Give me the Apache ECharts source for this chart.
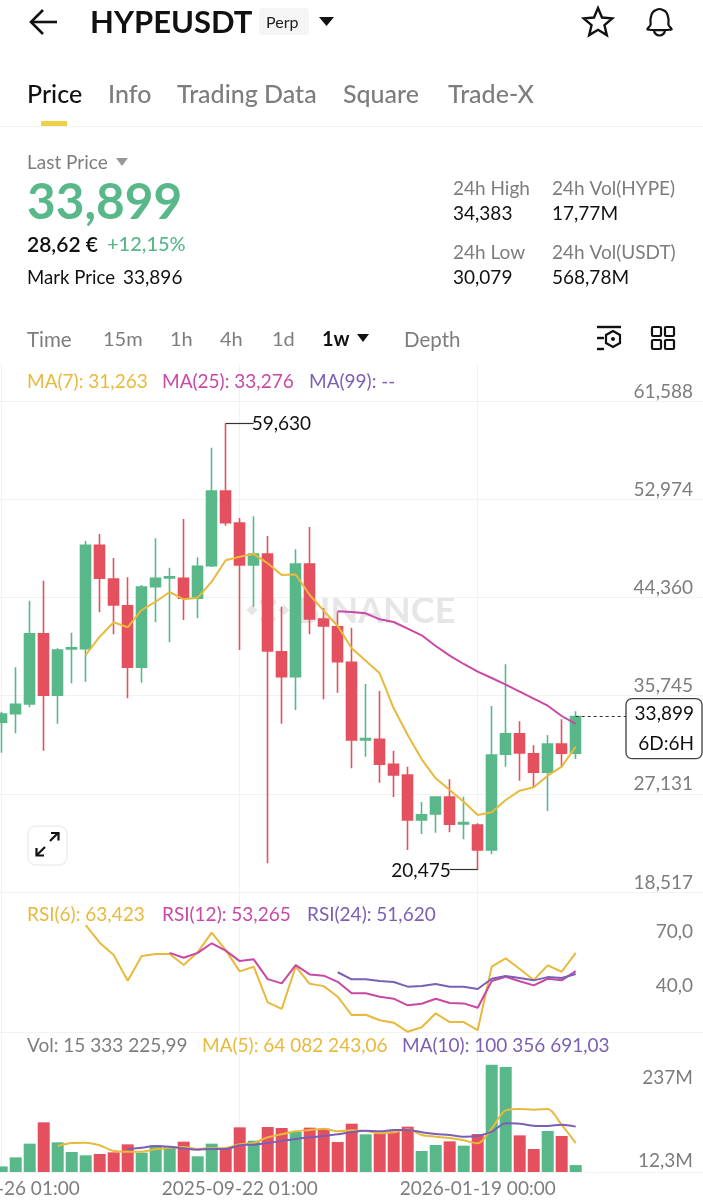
<!DOCTYPE html>
<html>
<head>
<meta charset="utf-8">
<style>
  html, body { margin: 0; padding: 0; background: #fff; }
  #chart { width: 703px; height: 1200px; }
</style>
<script src="https://cdn.jsdelivr.net/npm/echarts@6/dist/echarts.min.js"></script>
</head>
<body>
<div id="chart"></div>
<script>
var weeks = ['2025-05-26 01:00', '2025-06-02 01:00', '2025-06-09 01:00', '2025-06-16 01:00', '2025-06-23 01:00', '2025-06-30 01:00',
  '2025-07-07 01:00', '2025-07-14 01:00', '2025-07-21 01:00', '2025-07-28 01:00', '2025-08-04 01:00', '2025-08-11 01:00',
  '2025-08-18 01:00', '2025-08-25 01:00', '2025-09-01 01:00', '2025-09-08 01:00', '2025-09-15 01:00', '2025-09-22 01:00',
  '2025-09-29 01:00', '2025-10-06 01:00', '2025-10-13 01:00', '2025-10-20 01:00', '2025-10-27 00:00', '2025-11-03 00:00',
  '2025-11-10 00:00', '2025-11-17 00:00', '2025-11-24 00:00', '2025-12-01 00:00', '2025-12-08 00:00', '2025-12-15 00:00',
  '2025-12-22 00:00', '2025-12-29 00:00', '2026-01-05 00:00', '2026-01-12 00:00', '2026-01-19 00:00', '2026-01-26 00:00',
  '2026-02-02 00:00', '2026-02-09 00:00', '2026-02-16 00:00', '2026-02-23 00:00', '2026-03-02 00:00', '2026-03-09 00:00',
  // empty room right of the last candle
  ' ', '  ', '   ', '    ', '     ', '      ', '       ', '        ', '         '];

var opens = [33403, 34158, 35009, 41175, 35772, 39834, 39860, 48930, 45974, 43632, 38228, 45299, 46062, 46035,
  44281, 47141, 53693, 50886, 47202, 48167, 39596, 37403, 47290, 42465, 41790, 38667, 31851, 31913,
  29720, 28781, 24834, 25360, 26851, 24483, 24395, 22202, 30597, 32404, 30650, 29018, 31500, 30685];
var closes = [34132, 34983, 41175, 35772, 39746, 39948, 48930, 46035, 43693, 38228, 45272, 46035, 46176, 44281,
  47088, 53693, 50913, 47202, 48167, 39658, 37403, 47290, 42465, 41851, 38719, 31851, 31983, 29720,
  28781, 24834, 25299, 26851, 24456, 24614, 22202, 30535, 32404, 30711, 29018, 31500, 30685, 33899];
var lows = [30737, 32439, 34718, 30913, 33281, 36825, 36965, 43053, 41123, 35509, 36878, 42176, 40421, 42378,
  42527, 47027, 50650, 39746, 43544, 21035, 33281, 34483, 41123, 35420, 36000, 29369, 30386, 28106,
  26851, 22202, 23606, 23719, 23754, 23141, 20475, 21825, 29509, 28281, 27702, 25623, 29509, 30185];
var highs = [34334, 38228, 44071, 45825, 39895, 41264, 49307, 49922, 47816, 46123, 45448, 49544, 46965, 51237,
  47878, 57492, 59630, 51325, 51474, 49746, 43544, 48579, 50536, 43430, 43106, 41702, 36764, 36149,
  30913, 29509, 26413, 26851, 28403, 26878, 24544, 34834, 38492, 33492, 31386, 32290, 33667, 34369];

// ma7 starts at candle 6, ma25 at candle 24
var ma7 = [39307, 40913, 42176, 41737, 43255, 43982, 44834, 44193, 44334, 45737, 47614, 47930, 48167, 47351, 46325, 46369,
  44571, 43193, 41851, 39895, 38807, 37702, 34630, 32290, 30158, 28491, 27465, 26439, 25272, 25509, 26588, 27404,
  27702, 28719, 29509, 31263];
var ma25 = [43141, 43079, 42965, 42439, 42202, 41615, 41035, 40097, 39246, 38518, 37842, 37290, 36702, 36088, 35474,
  34860, 33956, 33276];

// rsi6 starts at candle 6, rsi12 at 12, rsi24 at 24
var rsi6 = [78.8, 69.0, 62.2, 47.9, 61.6, 62.7, 62.7, 56.6, 63.7, 74.6, 64.9, 53.1, 55.7, 35.9, 32.2, 55.8, 46.2, 44.9,
  39.0, 28.8, 29.0, 25.9, 24.6, 19.5, 22.0, 29.8, 24.9, 24.9, 20.5, 55.7, 60.3, 54.4, 48.3, 56.4, 52.9, 63.423];
var rsi12 = [63.4, 60.7, 63.4, 68.7, 64.6, 58.8, 59.8, 48.8, 46.4, 56.6, 51.4, 50.7, 47.3, 40.9, 40.9, 39.0, 37.9, 34.2,
  35.1, 37.9, 35.5, 35.3, 32.9, 47.7, 50.1, 47.6, 45.3, 49.0, 48.1, 53.265];
var rsi24 = [52.6, 48.7, 48.7, 47.7, 47.2, 44.6, 44.9, 46.1, 44.6, 44.6, 43.3, 49.0, 50.5, 49.4, 48.1, 49.9, 49.4, 51.62];

// volume in millions; volMa5 starts at candle 4, volMa10 at 9
var volumes = [12.3, 32.4, 62.7, 109.9, 65.6, 44.2, 36.9, 39.8, 43.5, 61.2, 42.8, 59.0, 54.6, 67.1, 34.7, 62.7, 51.6, 98.8,
  69.3, 99.6, 97.3, 89.2, 98.1, 95.9, 66.4, 106.9, 83.3, 84.8, 90.0, 100.3, 46.5, 59.7, 67.8, 58.3, 84.1, 237, 232.3,
  81.1, 50.9, 90.7, 79.6, 15.33];
var volMa5 = [57.5, 64.2, 64.9, 59.0, 46.5, 45.0, 45.0, 50.1, 53.8, 55.3, 50.9, 52.4, 53.1, 61.2, 64.2, 76.7, 83.3, 90.0,
  92.9, 95.9, 90.0, 92.2, 90.7, 85.5, 87.8, 94.4, 81.9, 78.2, 75.2, 70.1, 63.4, 95.9, 136.4, 139.4, 137.9, 139.4, 104.0, 64.08];
var volMa10 = [50.9, 53.8, 57.5, 56.0, 52.4, 49.4, 50.9, 50.9, 59.0, 60.5, 64.2, 68.6, 73.0, 76.7, 79.6, 83.3, 88.5, 91.4,
  90.0, 92.9, 92.9, 87.8, 84.1, 81.9, 78.2, 79.6, 89.2, 107.7, 106.9, 102.5, 101.8, 104.7, 100.36];

var priceTicks = [18517, 27131, 35745, 44360, 52974, 61588];
var rsiTicks = [40, 70];
var volTicks = [12.3, 237];

var FONT = 'Lato';
var UP = '#58b88a', DOWN = '#e5505f', YELLOW = '#e8b93c', PINK = '#c948a6', PURPLE = '#7a5fb5';
var GRID = '#f2f2f2', MUTED = '#7d7d7d', INK = '#111';

var chart = echarts.init(document.getElementById('chart'));

function pad(n, arr) {
  return new Array(n).fill(null).concat(arr);
}

function txt(x, y, text, size, color, weight, align) {
  return {
    type: 'text', x: x, y: y + 1, z: 20,
    style: { text: text, fill: color, fontFamily: FONT, fontSize: size, fontWeight: weight || 'normal',
      align: align || 'left', verticalAlign: 'middle' }
  };
}

function tri(x, y, w, h, color) {
  return { type: 'polygon', z: 20, shape: { points: [[x, y], [x + w, y], [x + w / 2, y + h]] }, style: { fill: color } };
}

function lineEl(pts, color, width) {
  return { type: 'polyline', z: 20, shape: { points: pts }, style: { stroke: color, lineWidth: width, fill: null } };
}

function starPts(cx, cy, R, r) {
  var pts = [];
  for (var i = 0; i < 10; i++) {
    var a = -Math.PI / 2 + i * Math.PI / 5, d = i % 2 ? r : R;
    pts.push([cx + d * Math.cos(a), cy + d * Math.sin(a)]);
  }
  return pts;
}

function diamond(cx, cy, s) {
  return { type: 'polygon', z: 0, shape: { points: [[cx, cy - s], [cx + s, cy], [cx, cy + s], [cx - s, cy]] }, style: { fill: '#e6e6e6' } };
}

var chrome = [
  // top bar
  lineEl([[43, 10], [31, 22], [43, 34]], INK, 2.6),
  lineEl([[31, 22], [57, 22]], INK, 2.6),
  txt(90, 22, 'HYPEUSDT', 31, INK, 'bold'),
  { type: 'rect', z: 19, shape: { x: 259, y: 8, width: 50, height: 27, r: 4 }, style: { fill: '#f5f5f5' } },
  txt(266, 22, 'Perp', 16, '#222'),
  tri(319, 17, 15, 9, INK),
  { type: 'polygon', z: 20, shape: { points: starPts(598, 23, 15, 6.8) }, style: { fill: 'none', stroke: INK, lineWidth: 2.4 } },
  { type: 'polygon', z: 20, shape: { smooth: 0.25, points: [[659.5, 9], [653, 12], [650.5, 19], [650.5, 25], [647.5, 29.5], [671.5, 29.5], [668.5, 25], [668.5, 19], [666, 12]] },
    style: { fill: 'none', stroke: INK, lineWidth: 2.2 } },
  { type: 'arc', z: 20, shape: { cx: 659.5, cy: 30, r: 5.5, startAngle: 0, endAngle: Math.PI, clockwise: true }, style: { fill: 'none', stroke: INK, lineWidth: 2.2 } },
  // tabs
  txt(27, 94, 'Price', 25, INK, '500'),
  txt(108, 94, 'Info', 25, MUTED, '500'),
  txt(177, 94, 'Trading Data', 25, MUTED, '500'),
  txt(343, 94, 'Square', 25, MUTED, '500'),
  txt(448, 94, 'Trade-X', 25, MUTED, '500'),
  { type: 'rect', z: 20, shape: { x: 41, y: 121, width: 26, height: 5 }, style: { fill: '#f0d048' } },
  { type: 'rect', z: 19, shape: { x: 0, y: 126, width: 703, height: 1 }, style: { fill: GRID } },
  // price block
  txt(27, 162, 'Last Price', 19, MUTED),
  tri(116, 158, 12, 8, '#999'),
  txt(27, 202, '33,899', 49.5, UP, 'bold'),
  txt(27, 244, '28,62 €', 21, INK, '600'),
  txt(107, 244, '+12,15%', 20, UP, '500'),
  txt(27, 277, 'Mark Price', 18.6, INK),
  txt(123, 277, '33,896', 19, INK),
  txt(453, 188, '24h High', 19, MUTED),
  txt(453, 213, '34,383', 19, INK),
  txt(552, 188, '24h Vol(HYPE)', 19, MUTED),
  txt(552, 213, '17,77M', 19, INK),
  txt(453, 252, '24h Low', 19, MUTED),
  txt(453, 277, '30,079', 19, INK),
  txt(552, 252, '24h Vol(USDT)', 19, MUTED),
  txt(552, 277, '568,78M', 19, INK),
  // interval row
  txt(27, 339, 'Time', 20.5, MUTED),
  txt(103, 339, '15m', 20, MUTED),
  txt(170, 339, '1h', 20, MUTED),
  txt(220, 339, '4h', 20, MUTED),
  txt(272, 339, '1d', 20, MUTED),
  txt(322, 339, '1w', 20, INK, 'bold'),
  tri(357, 334, 12, 8, INK),
  txt(404, 339, 'Depth', 20.5, MUTED),
  // settings + layout icons
  lineEl([[597, 327], [621, 327]], INK, 2.4),
  lineEl([[597, 338], [604, 338]], INK, 2.4),
  lineEl([[597, 349], [604, 349]], INK, 2.4),
  { type: 'polygon', z: 20, shape: { points: [[613, 331], [620, 335], [620, 343], [613, 347], [606, 343], [606, 335]] }, style: { fill: 'none', stroke: INK, lineWidth: 2.2 } },
  { type: 'circle', z: 20, shape: { cx: 613, cy: 339, r: 2 }, style: { fill: INK } },
  { type: 'rect', z: 20, shape: { x: 652, y: 327, width: 9, height: 9, r: 1 }, style: { fill: 'none', stroke: INK, lineWidth: 2.2 } },
  { type: 'rect', z: 20, shape: { x: 665, y: 327, width: 9, height: 9, r: 1 }, style: { fill: 'none', stroke: INK, lineWidth: 2.2 } },
  { type: 'rect', z: 20, shape: { x: 652, y: 340, width: 9, height: 9, r: 1 }, style: { fill: 'none', stroke: INK, lineWidth: 2.2 } },
  { type: 'rect', z: 20, shape: { x: 665, y: 340, width: 9, height: 9, r: 1 }, style: { fill: 'none', stroke: INK, lineWidth: 2.2 } },
  // legends
  txt(27, 381, 'MA(7): 31,263', 19, YELLOW),
  txt(162, 381, 'MA(25): 33,276', 19, PINK),
  txt(309, 381, 'MA(99): --', 19, PURPLE),
  txt(27, 914, 'RSI(6): 63,423', 19, YELLOW),
  txt(162, 914, 'RSI(12): 53,265', 19, PINK),
  txt(307, 914, 'RSI(24): 51,620', 19, PURPLE),
  txt(27, 1045, 'Vol: 15 333 225,99', 19, MUTED),
  txt(202, 1045, 'MA(5): 64 082 243,06', 19, YELLOW),
  txt(402, 1045, 'MA(10): 100 356 691,03', 19, PURPLE),
  // watermark
  diamond(268, 602, 9), diamond(268, 619, 8), diamond(252, 610, 5.5), diamond(284, 610, 5.5),
  { type: 'text', x: 296, y: 611, z: 0, style: { text: 'BINANCE', fill: '#e6e6e6', fontFamily: FONT, fontSize: 36, fontWeight: 'bold', align: 'left', verticalAlign: 'middle' } },
  // expand button
  { type: 'rect', z: 20, shape: { x: 28, y: 826, width: 39, height: 39, r: 8 }, style: { fill: '#fff', stroke: '#eeeeee', lineWidth: 1.5 } },
  lineEl([[50, 841], [58, 833]], INK, 2.2),
  lineEl([[51, 833], [58.5, 833], [58.5, 840.5]], INK, 2.2),
  lineEl([[37, 855], [45, 847]], INK, 2.2),
  lineEl([[36.5, 848], [36.5, 855.5], [44, 855.5]], INK, 2.2)
];

var option = {
  animation: false,
  backgroundColor: '#fff',
  textStyle: { fontFamily: FONT },
  graphic: chrome,
  grid: [
    { left: -5.3, width: 714, top: 364, height: 528, outerBoundsMode: 'none' },
    { left: -5.3, width: 714, top: 892, height: 140, outerBoundsMode: 'none' },
    { left: -5.3, width: 714, top: 1032, height: 140, outerBoundsMode: 'none' }
  ],
  xAxis: [0, 1, 2].map(function (i) {
    return {
      type: 'category', gridIndex: i, data: weeks, boundaryGap: true,
      axisLine: { show: true, onZero: false, lineStyle: { color: GRID, width: 1 } },
      axisTick: { show: false, alignWithLabel: true },
      axisLabel: {
        show: i === 2, color: MUTED, fontSize: 19, margin: 7,
        interval: function (idx) { return idx % 17 === 0 && idx < 42; }
      },
      splitLine: {
        show: true, alignWithLabel: true, lineStyle: { color: GRID, width: 1 },
        interval: function (idx) { return idx % 17 === 0 && idx < 42; }
      }
    };
  }),
  yAxis: [
    {
      type: 'value', gridIndex: 0, position: 'right', min: 18517, max: 64834, scale: true,
      axisLine: { show: false },
      axisTick: { show: false, customValues: priceTicks },
      axisLabel: {
        inside: true, margin: 15.7, color: MUTED, fontSize: 19, verticalAlign: 'bottom', customValues: priceTicks,
        formatter: function (v) { return Math.round(v).toLocaleString('en-US'); }
      },
      splitLine: { show: true, lineStyle: { color: GRID, width: 1 } }
    },
    {
      type: 'value', gridIndex: 1, position: 'right', min: 19.4, max: 97.2, scale: true,
      axisLine: { show: false },
      axisTick: { show: false, customValues: rsiTicks },
      axisLabel: {
        inside: true, margin: 15.7, color: MUTED, fontSize: 19, verticalAlign: 'bottom', customValues: rsiTicks,
        formatter: function (v) { return v.toFixed(1).replace('.', ','); }
      },
      splitLine: { show: false }
    },
    {
      type: 'value', gridIndex: 2, position: 'right', min: 0, max: 309.7,
      axisLine: { show: false },
      axisTick: { show: false, customValues: volTicks },
      axisLabel: {
        inside: true, margin: 15.7, color: MUTED, fontSize: 19, customValues: volTicks,
        formatter: function (v) { return v > 100 ? '{top|237M}' : '{low|12,3M}'; },
        rich: {
          top: { padding: [26, 0, 0, 0], color: MUTED, fontSize: 19 },
          low: { padding: [0, 0, 12, 0], color: MUTED, fontSize: 19 }
        }
      },
      splitLine: { show: false }
    }
  ],
  series: [
    {
      type: 'candlestick', xAxisIndex: 0, yAxisIndex: 0, barWidth: 10.4, z: 3,
      data: opens.map(function (o, i) { return [o, closes[i], lows[i], highs[i]]; }),
      itemStyle: { color: UP, color0: DOWN, borderColor: UP, borderColor0: DOWN, borderWidth: 1.6 },
      markLine: {
        silent: true, symbol: 'none', animation: false,
        data: [
          [{ coord: [16, 59630], lineStyle: { color: '#333', width: 1.2, type: 'solid' },
             label: { show: true, position: 'end', formatter: '59,630', color: INK, fontSize: 19, distance: -2, offset: [0, 1] } }, { coord: [18, 59630] }],
          [{ coord: [34, 20475], lineStyle: { color: '#333', width: 1.2, type: 'solid' },
             label: { show: true, position: 'end', formatter: '20,475', color: INK, fontSize: 19, distance: -1, offset: [0, 1] } }, { coord: [32, 20475] }],
          [{ coord: [41, 33899], lineStyle: { color: '#333', width: 1.2, type: [3, 3] }, label: { show: false } }, { coord: [45, 33899] }]
        ]
      },
      markPoint: {
        silent: true, animation: false,
        data: [{
          coord: [47, 33899],
          symbol: 'path://M6 0H70A6 6 0 0 1 76 6V54A6 6 0 0 1 70 60H6A6 6 0 0 1 0 54V6A6 6 0 0 1 6 0Z',
          symbolKeepAspect: false, symbolSize: [76, 60], symbolOffset: [4.3, 12],
          itemStyle: { color: '#fff', borderColor: '#444', borderWidth: 1.2 },
          label: { show: true, position: 'inside', formatter: '33,899\n6D:6H', color: INK, fontSize: 19, lineHeight: 30, align: 'right', offset: [30, 0] }
        }]
      }
    },
    { type: 'line', name: 'MA(7)', xAxisIndex: 0, yAxisIndex: 0, data: pad(6, ma7), showSymbol: false, z: 4, lineStyle: { color: YELLOW, width: 2 } },
    { type: 'line', name: 'MA(25)', xAxisIndex: 0, yAxisIndex: 0, data: pad(24, ma25), showSymbol: false, z: 4, lineStyle: { color: PINK, width: 2 } },
    { type: 'line', name: 'RSI(6)', xAxisIndex: 1, yAxisIndex: 1, data: pad(6, rsi6), showSymbol: false, lineStyle: { color: YELLOW, width: 2 } },
    { type: 'line', name: 'RSI(12)', xAxisIndex: 1, yAxisIndex: 1, data: pad(12, rsi12), showSymbol: false, lineStyle: { color: PINK, width: 2 } },
    { type: 'line', name: 'RSI(24)', xAxisIndex: 1, yAxisIndex: 1, data: pad(24, rsi24), showSymbol: false, lineStyle: { color: PURPLE, width: 2 } },
    {
      type: 'bar', name: 'Vol', xAxisIndex: 2, yAxisIndex: 2, barWidth: 12,
      data: volumes.map(function (v, i) {
        return { value: v, itemStyle: { color: closes[i] >= opens[i] ? UP : DOWN } };
      })
    },
    { type: 'line', name: 'MA(5)', xAxisIndex: 2, yAxisIndex: 2, data: pad(4, volMa5), showSymbol: false, smooth: 0.3, z: 4, lineStyle: { color: YELLOW, width: 2 } },
    { type: 'line', name: 'MA(10)', xAxisIndex: 2, yAxisIndex: 2, data: pad(9, volMa10), showSymbol: false, smooth: 0.3, z: 4, lineStyle: { color: PURPLE, width: 2 } }
  ]
};

chart.setOption(option);
</script>
</body>
</html>
